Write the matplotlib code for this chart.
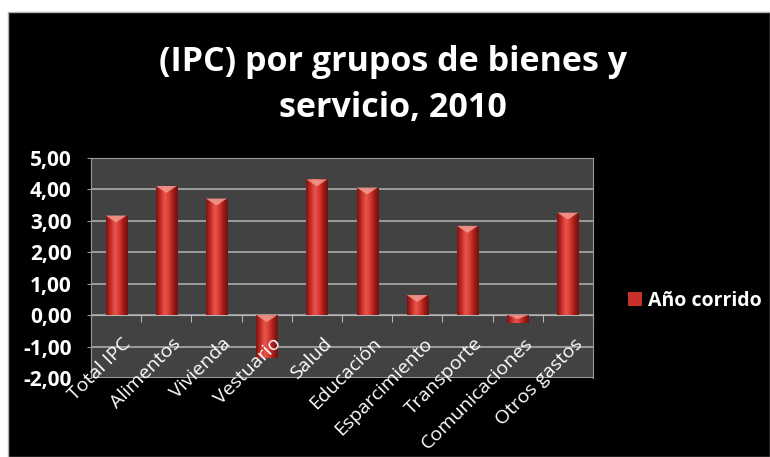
import numpy as np
import matplotlib.pyplot as plt
from matplotlib.colors import LinearSegmentedColormap
from matplotlib.patches import Rectangle, Polygon
from matplotlib.transforms import offset_copy

categorias = ["Total IPC", "Alimentos", "Vivienda", "Vestuario", "Salud",
              "Educación", "Esparcimiento", "Transporte", "Comunicaciones",
              "Otros gastos"]
anio_corrido = [3.17, 4.11, 3.71, -1.36, 4.32, 4.06, 0.64, 2.84, -0.24, 3.26]
y_ticks = [-2, -1, 0, 1, 2, 3, 4, 5]

titulo_1 = "(IPC) por grupos de bienes y"
titulo_2 = "servicio, 2010"
serie = "Año corrido"

W, H = 770, 457
fig = plt.figure(figsize=(W / 100, H / 100), dpi=100, facecolor="white")

# fondo negro con borde gris
fig.patches.append(Rectangle((8 / W, 0), 1 - 8 / W, 1 - 12 / H, transform=fig.transFigure,
                             facecolor="black", edgecolor="#b0b0b0", lw=1, zorder=-5))

fig.text(393 / W, 1 - 71 / H, titulo_1, ha="center", va="baseline", color="white",
         fontsize=24.5, fontweight="bold", family="Open Sans")
fig.text(393 / W, 1 - 117 / H, titulo_2, ha="center", va="baseline", color="white",
         fontsize=24.5, fontweight="bold", family="Open Sans")

ax = fig.add_axes([91 / W, 1 - 378 / H, 502 / W, 220 / H])
ax.set_zorder(2)
ax.set_facecolor("#424242")

x = np.arange(len(categorias))
ancho = 0.42
barras = ax.bar(x, anio_corrido, width=ancho, color="#c8302a", zorder=3)

# sombreado cilindrico de cada barra
cmap = LinearSegmentedColormap.from_list(
    "rojo", ["#7a1410", "#c42a24", "#e8564c", "#d83a32", "#a01c17", "#6e120f"])
grad = np.linspace(0, 1, 64).reshape(1, -1)
for b, v in zip(barras, anio_corrido):
    x0, y0 = b.get_x(), b.get_y()
    w, h = b.get_width(), b.get_height()
    im = ax.imshow(grad, extent=[x0, x0 + w, min(y0, y0 + h), max(y0, y0 + h)],
                   aspect="auto", cmap=cmap, zorder=3.5, interpolation="bicubic")
    im.set_clip_path(b)
    top = max(v, 0)
    d = min(0.22, abs(v) * 0.5)
    ax.add_patch(Polygon([(x0, top), (x0 + w, top), (x0 + w / 2, top - d)],
                         closed=True, facecolor="#f29a90", edgecolor="none",
                         alpha=0.85, zorder=4))

ax.set_xlim(-0.5, len(categorias) - 0.5)
ax.set_ylim(-2, 5)
ax.set_yticks(y_ticks)
ax.set_yticklabels([f"{t:.2f}".replace(".", ",") for t in y_ticks])
ax.grid(axis="y", color="#b4b4b4", lw=1.1, zorder=1)
ax.set_axisbelow(True)

for s in ["left", "right", "top"]:
    ax.spines[s].set_color("#9a9a9a")
ax.spines["bottom"].set_position(("data", 0))
ax.spines["bottom"].set_color("#b4b4b4")
ax.spines["bottom"].set_zorder(2)

ax.set_xticks(np.arange(-0.5, len(categorias), 1))
ax.set_xticklabels([])
ax.tick_params(axis="x", direction="out", length=5, color="#b4b4b4")
ax.tick_params(axis="y", direction="out", length=3, color="#9a9a9a",
               labelcolor="white", labelsize=15, pad=11)
for lab in ax.get_yticklabels():
    lab.set_fontweight("bold")
    lab.set_family("Open Sans")

# etiquetas de categoria junto al eje en cero
trans = offset_copy(ax.transData, fig=fig, x=4, y=-14, units="points")
for xi, c in zip(x, categorias):
    ax.text(xi, 0, c, transform=trans, rotation=45, ha="right", va="top",
            rotation_mode="anchor", color="white", fontsize=14, family="Open Sans",
            clip_on=False, zorder=5)

leg = ax.legend([barras[0]], [serie], loc="center left",
                bbox_to_anchor=(628 / W, 1 - 301 / H), bbox_transform=fig.transFigure,
                frameon=False, handlelength=0.72, handleheight=0.72, handletextpad=0.3,
                borderpad=0, borderaxespad=0,
                prop={"family": "Open Sans", "weight": "bold", "size": 14})
for t in leg.get_texts():
    t.set_color("white")

fig.savefig("out.png", dpi=100, facecolor="white")
